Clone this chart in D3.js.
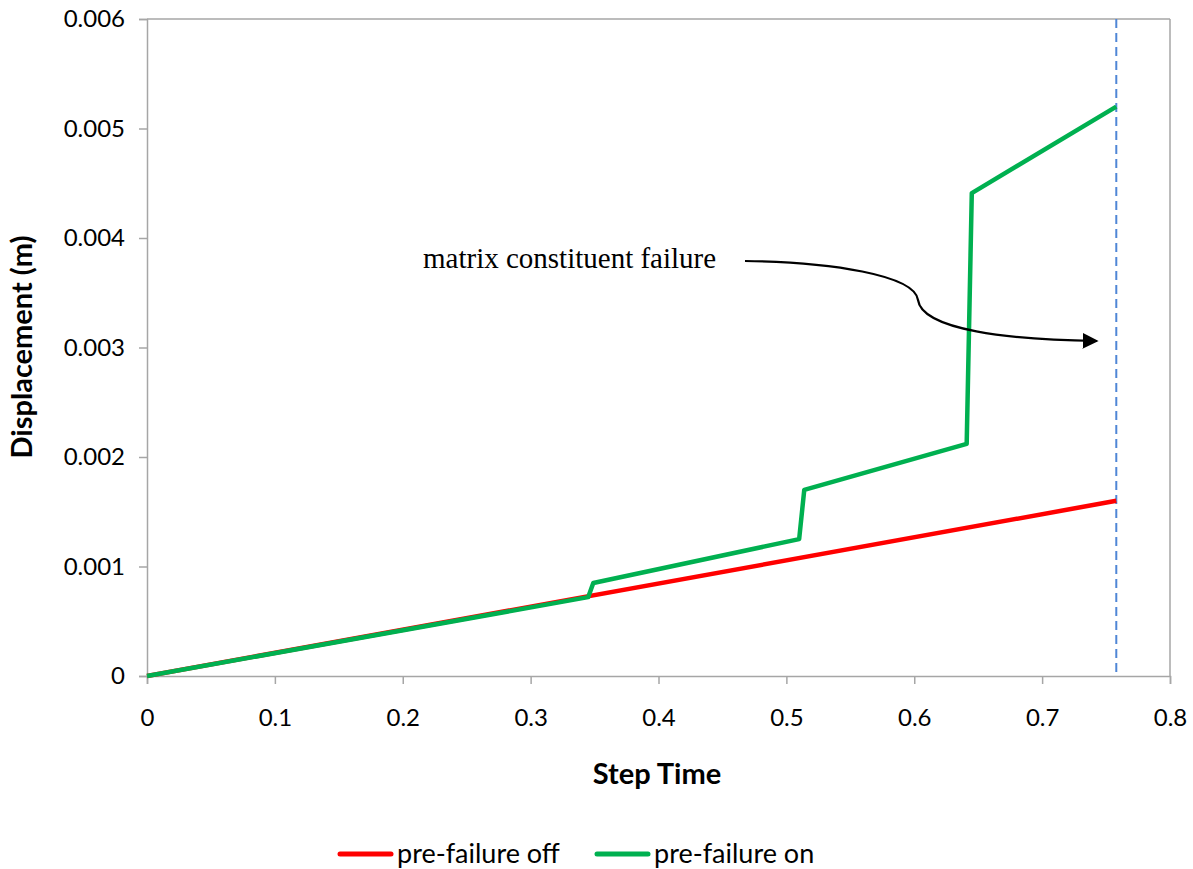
<!DOCTYPE html>
<html>
<head>
<meta charset="utf-8">
<script src="https://cdn.jsdelivr.net/npm/d3@7"></script>
<style>
  html, body { margin: 0; padding: 0; background: #fff; }
  svg { display: block; }
</style>
</head>
<body>
<svg id="chart" width="1193" height="869"></svg>
<script>
// ---- data ----
const xTicks = [0, 0.1, 0.2, 0.3, 0.4, 0.5, 0.6, 0.7, 0.8];
const yTicks = [0, 0.001, 0.002, 0.003, 0.004, 0.005, 0.006];
const seriesNames = ["pre-failure off", "pre-failure on"];
const offX = [0, 0.758];
const offY = [0, 0.00160];
const onX = [0, 0.345, 0.349, 0.510, 0.514, 0.641, 0.645, 0.758];
const onY = [0, 0.00072, 0.00085, 0.00125, 0.00170, 0.00212, 0.00441, 0.00520];
const failureX = 0.758;
const annotationText = "matrix constituent failure";

// ---- layout ----
const svg = d3.select("#chart");
const L = 147, R = 1170, T = 19, B = 676;
const x = d3.scaleLinear().domain([0, 0.8]).range([L, R]);
const y = d3.scaleLinear().domain([0, 0.006]).range([B, T]);
const axisColor = "#a6a6a6";
const font = "Lato, 'Open Sans', sans-serif";

// plot frame (top and right)
svg.append("line").attr("x1", L).attr("x2", R).attr("y1", T).attr("y2", T)
  .attr("stroke", axisColor).attr("stroke-width", 1.5);
svg.append("line").attr("x1", R).attr("x2", R).attr("y1", T).attr("y2", B)
  .attr("stroke", axisColor).attr("stroke-width", 1.5);

// axes
const xAxis = d3.axisBottom(x).tickValues(xTicks).tickSize(8).tickPadding(25)
  .tickFormat(d => d === 0 ? "0" : d3.format(".1f")(d));
const gx = svg.append("g").attr("transform", `translate(0,${B})`).call(xAxis);
const yAxis = d3.axisLeft(y).tickValues(yTicks).tickSize(8).tickPadding(14)
  .tickFormat(d => d === 0 ? "0" : d3.format(".3f")(d));
const gy = svg.append("g").attr("transform", `translate(${L},0)`).call(yAxis);
[gx, gy].forEach(g => {
  g.select(".domain").attr("stroke", axisColor).attr("stroke-width", 1.5);
  g.selectAll(".tick line").attr("stroke", axisColor).attr("stroke-width", 1.5);
  g.selectAll(".tick text").attr("fill", "#000").style("font-family", font).style("font-size", "24px");
});

// axis titles
svg.append("text").attr("x", 657).attr("y", 784).attr("text-anchor", "middle")
  .style("font-family", font).style("font-size", "29px").style("font-weight", "bold")
  .text("Step Time");
svg.append("text").attr("transform", `translate(32,347) rotate(-90)`)
  .attr("text-anchor", "middle")
  .style("font-family", font).style("font-size", "29px").style("font-weight", "bold")
  .text("Displacement (m)");

// failure marker (dashed)
svg.append("line").attr("x1", x(failureX)).attr("x2", x(failureX)).attr("y1", T).attr("y2", B)
  .attr("stroke", "#4f86d6").attr("stroke-width", 2).attr("stroke-dasharray", "9,5");

// series
const line = d3.line().x(d => x(d[0])).y(d => y(d[1]));
svg.append("path").datum(d3.zip(offX, offY)).attr("d", line)
  .attr("fill", "none").attr("stroke", "#ff0000").attr("stroke-width", 4.5);
svg.append("path").datum(d3.zip(onX, onY)).attr("d", line)
  .attr("fill", "none").attr("stroke", "#00b050").attr("stroke-width", 4.5)
  .attr("stroke-linejoin", "round");

// annotation
svg.append("text").attr("x", 423).attr("y", 268)
  .style("font-family", "'Liberation Serif', 'Times New Roman', serif").style("font-size", "29px")
  .text(annotationText);
svg.append("defs").append("marker").attr("id", "arrow").attr("viewBox", "0 0 10 10")
  .attr("refX", 9).attr("refY", 5).attr("markerWidth", 16).attr("markerHeight", 16)
  .attr("markerUnits", "userSpaceOnUse").attr("orient", "auto")
  .append("path").attr("d", "M0,0 L10,5 L0,10 Z").attr("fill", "#000");
svg.append("path")
  .attr("d", "M745,261 C830,262 915,275 918,300 C922,330 1010,340 1097,341")
  .attr("fill", "none").attr("stroke", "#000").attr("stroke-width", 2.2)
  .attr("marker-end", "url(#arrow)");

// legend
const legend = [
  { name: seriesNames[0], color: "#ff0000", x: 340 },
  { name: seriesNames[1], color: "#00b050", x: 597 }
];
legend.forEach(l => {
  svg.append("line").attr("x1", l.x).attr("x2", l.x + 51).attr("y1", 854).attr("y2", 854)
    .attr("stroke", l.color).attr("stroke-width", 5).attr("stroke-linecap", "round");
  svg.append("text").attr("x", l.x + 57).attr("y", 863)
    .style("font-family", font).style("font-size", "27px").text(l.name);
});
</script>
</body>
</html>
